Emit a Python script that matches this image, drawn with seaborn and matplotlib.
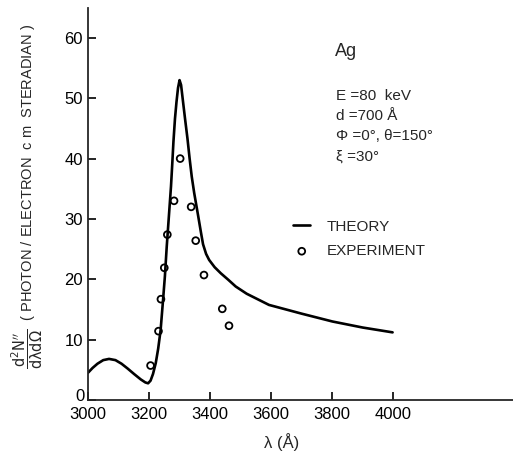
import matplotlib
matplotlib.use("Agg")
import matplotlib.pyplot as plt
import matplotlib.transforms as mtransforms
import seaborn as sns
import pandas as pd

# theory curve
theory_wl = [3000, 3015, 3031, 3050, 3069, 3090, 3110, 3130, 3151, 3173, 3188,
             3197, 3205, 3213, 3222, 3230, 3238, 3246, 3252, 3258, 3265, 3272,
             3276, 3280, 3285, 3290, 3295, 3300, 3305, 3311, 3318, 3326, 3333,
             3340, 3348, 3361, 3370, 3377, 3387, 3397, 3415, 3435, 3460, 3484,
             3520, 3593, 3700, 3801, 3900, 3998]
theory_val = [4.5, 5.3, 6.0, 6.6, 6.8, 6.6, 6.0, 5.2, 4.3, 3.4, 2.9,
              2.76, 3.2, 4.3, 6.1, 8.5, 11.6, 16.6, 20.5, 25.4, 30.4, 35.4,
              39.0, 42.8, 46.6, 49.4, 51.7, 53.0, 52.2, 49.6, 46.6, 43.3, 40.0,
              37.0, 34.3, 30.5, 27.8, 25.8, 24.2, 23.2, 22.0, 21.0, 19.9, 18.8,
              17.6, 15.75, 14.3, 13.0, 12.0, 11.2]

# experimental points
exp_wl = [3205, 3231, 3239, 3250, 3260, 3282, 3302, 3338, 3353, 3380, 3440, 3462]
exp_val = [5.7, 11.4, 16.7, 21.9, 27.4, 33.0, 40.0, 32.0, 26.4, 20.7, 15.1, 12.3]

theory = pd.DataFrame({"wl": theory_wl, "val": theory_val})
expt = pd.DataFrame({"wl": exp_wl, "val": exp_val})

sns.set_style("ticks")
plt.rcParams['font.family'] = ['Liberation Sans', 'DejaVu Sans']
plt.rcParams['mathtext.fontset'] = 'dejavusans'

fig = plt.figure(figsize=(5.13, 4.55), dpi=100)
ax = fig.add_axes([0.1715, 0.121, 0.83, 0.862])

sns.lineplot(data=theory, x="wl", y="val", ax=ax, color="black", lw=1.9,
             sort=False, label="THEORY")
sns.scatterplot(data=expt, x="wl", y="val", ax=ax, marker="o", s=24,
                facecolor="none", edgecolor="black", linewidth=1.3,
                label="EXPERIMENT")

ax.set_xlim(3000, 4395)
ax.set_ylim(0, 65)
ax.set_xticks([3000, 3200, 3400, 3600, 3800, 4000])
ax.set_yticks([0, 10, 20, 30, 40, 50, 60])
ax.tick_params(direction="in", length=6, width=1.2, labelsize=12, colors="black")
ax.tick_params(axis="x", pad=5)
for side in ["left", "bottom"]:
    ax.spines[side].set_linewidth(1.3)
sns.despine(ax=ax)

# lift the y "0" a little so it sits above "3000"
zero_lbl = ax.get_yticklabels()[0]
zero_lbl.set_transform(zero_lbl.get_transform() +
                       mtransforms.ScaledTranslation(0.02, 0.05, fig.dpi_scale_trans))

ax.set_xlabel("λ (Å)", fontsize=12, labelpad=10)
ax.xaxis.set_label_coords(0.455, -0.085)
ax.set_ylabel(r"$\dfrac{\mathsf{d^2N''}}{\mathsf{d\lambda d\Omega}}$  ( PHOTON / ELECTRON  c m  STERADIAN )",
              fontsize=10.5, labelpad=8)
ax.yaxis.set_label_coords(-0.10, 0.52)

# parameter block
ax.text(3810, 57.0, "Ag", fontsize=13)
params = ["E =80  keV", "d =700 Å", "Φ =0°, θ=150°", "ξ =30°"]
for i, p in enumerate(params):
    ax.text(3812, 50.3 - i * 3.3, p, fontsize=11, va="center")

ax.legend(frameon=False, loc="upper left", bbox_to_anchor=(0.45, 0.495),
          fontsize=11, handlelength=1.1, handletextpad=1.1, labelspacing=0.7)

fig.savefig("out.png", dpi=100)
